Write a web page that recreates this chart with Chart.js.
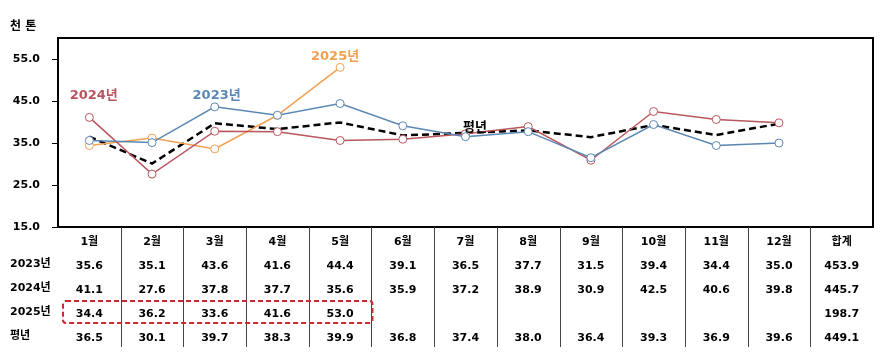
<!DOCTYPE html>
<html>
<head>
<meta charset="utf-8">
<script src="https://cdn.jsdelivr.net/npm/chart.js@4/dist/chart.umd.min.js"></script>
<style>
html,body{margin:0;padding:0;background:#fff;}
#wrap{width:883px;height:360px;position:relative;}
</style>
</head>
<body>
<div id="wrap"><canvas id="c" width="883" height="360"></canvas></div>
<script>
// ---- data ----
const months = ['1월','2월','3월','4월','5월','6월','7월','8월','9월','10월','11월','12월'];
const totalLabel = '합계';
const rowNames = ['2023년','2024년','2025년','평년'];
const y2023 = [35.6,35.1,43.6,41.6,44.4,39.1,36.5,37.7,31.5,39.4,34.4,35.0];
const y2024 = [41.1,27.6,37.8,37.7,35.6,35.9,37.2,38.9,30.9,42.5,40.6,39.8];
const y2025 = [34.4,36.2,33.6,41.6,53.0];
const yNormal = [36.5,30.1,39.7,38.3,39.9,36.8,37.4,38.0,36.4,39.3,36.9,39.6];
const totals = [453.9,445.7,198.7,449.1];
const yTicks = [15,25,35,45,55];
const unitLabel = '천 톤';

const FONT = "'DejaVu Sans','Noto Sans CJK KR',sans-serif";
const C2023 = '#5b87b4';
const C2024 = '#b9555c';
const C2025 = '#f0a050';
const CNORM = '#000000';

const fmt = v => (v === undefined || v === null) ? '' : v.toFixed(1);
const series = [y2023, y2024, y2025, yNormal];
const categories = months.concat([totalLabel]);
const tickLabels = categories.map((m, i) => {
  const lines = [m];
  series.forEach((s, k) => {
    lines.push(i < months.length ? fmt(s[i]) : fmt(totals[k]));
  });
  return lines;
});
const pad = arr => categories.map((_, i) => i < arr.length ? arr[i] : null);

// series text annotations: [text, category index, value, color]
const seriesNotes = [
  ['2024년', 0.07, 46.2, C2024],
  ['2023년', 2.03, 46.2, C2023],
  ['2025년', 3.92, 55.6, C2025],
  ['평년', 6.15, 38.6, CNORM]
];

const extras = {
  id: 'extras',
  afterDraw(chart) {
    const ctx = chart.ctx, a = chart.chartArea;
    const xs = chart.scales.x, ys = chart.scales.y;
    const step = xs.getPixelForValue(1) - xs.getPixelForValue(0);
    ctx.save();
    // plot frame
    ctx.strokeStyle = '#000';
    ctx.lineWidth = 2;
    ctx.strokeRect(a.left, a.top, a.right - a.left, a.bottom - a.top);
    // table separators
    ctx.strokeStyle = '#444';
    ctx.lineWidth = 1;
    for (let i = 0; i < categories.length - 1; i++) {
      const x = Math.round(xs.getPixelForValue(i) + step / 2) + 0.5;
      ctx.beginPath();
      ctx.moveTo(x, a.bottom);
      ctx.lineTo(x, a.bottom + 120);
      ctx.stroke();
    }
    // row names
    ctx.fillStyle = '#000';
    ctx.font = 'bold 11px ' + FONT;
    ctx.textAlign = 'left';
    ctx.textBaseline = 'middle';
    const rowY0 = a.bottom + 37, rowH = 24;
    rowNames.forEach((r, k) => ctx.fillText(r, 10, rowY0 + k * rowH));
    // unit label
    ctx.font = 'bold 12px ' + FONT;
    ctx.fillText(unitLabel, 10, 27);
    // dashed highlight around 2025 row
    const x0 = xs.getPixelForValue(0) - step / 2 + 5;
    const x1 = xs.getPixelForValue(y2025.length - 1) + step / 2 + 1;
    const yc = rowY0 + 2 * rowH;
    ctx.strokeStyle = '#d0282d';
    ctx.lineWidth = 2;
    ctx.setLineDash([5, 3]);
    ctx.beginPath();
    ctx.roundRect(x0, yc - 11, x1 - x0, 22, 3);
    ctx.stroke();
    ctx.setLineDash([]);
    // series notes
    ctx.font = 'bold 13px ' + FONT;
    ctx.textAlign = 'center';
    seriesNotes.forEach(([t, i, v, c]) => {
      ctx.fillStyle = c;
      ctx.fillText(t, xs.getPixelForValue(i), ys.getPixelForValue(v));
    });
    ctx.restore();
  }
};

const pointStyle = c => ({
  borderColor: c, pointBorderColor: c, pointBackgroundColor: '#fff',
  pointRadius: 4, pointHoverRadius: 4, pointBorderWidth: 1, borderWidth: 1.5,
  tension: 0, spanGaps: false, fill: false
});

new Chart(document.getElementById('c'), {
  type: 'line',
  data: {
    labels: tickLabels,
    datasets: [
      Object.assign({label: '2023년', data: pad(y2023)}, pointStyle(C2023)),
      Object.assign({label: '2024년', data: pad(y2024)}, pointStyle(C2024)),
      Object.assign({label: '2025년', data: pad(y2025)}, pointStyle(C2025)),
      {label: '평년', data: pad(yNormal), borderColor: CNORM, borderWidth: 2.5,
       borderDash: [7, 4], pointRadius: 0, fill: false, tension: 0}
    ]
  },
  options: {
    responsive: false,
    animation: false,
    devicePixelRatio: 1,
    layout: {padding: {top: 38, right: 10, left: 0, bottom: 0}},
    plugins: {legend: {display: false}, tooltip: {enabled: false}},
    scales: {
      x: {
        offset: true,
        grid: {display: false},
        border: {display: false},
        ticks: {
          color: '#000', maxRotation: 0, autoSkip: false, padding: -5,
          font: {family: FONT, size: 11, weight: 'bold', lineHeight: '24px'}
        },
        afterFit: s => { s.height = 133; }
      },
      y: {
        min: 15, max: 60,
        afterBuildTicks: s => { s.ticks = yTicks.map(v => ({value: v})); },
        grid: {drawOnChartArea: false, drawTicks: true, tickLength: 6, color: '#000'},
        border: {display: false},
        ticks: {
          color: '#000', padding: 12,
          font: {family: FONT, size: 11, weight: 'bold'},
          callback: v => Number(v).toFixed(1)
        },
        afterFit: s => { s.width = 58; }
      }
    }
  },
  plugins: [extras]
});
</script>
</body>
</html>
